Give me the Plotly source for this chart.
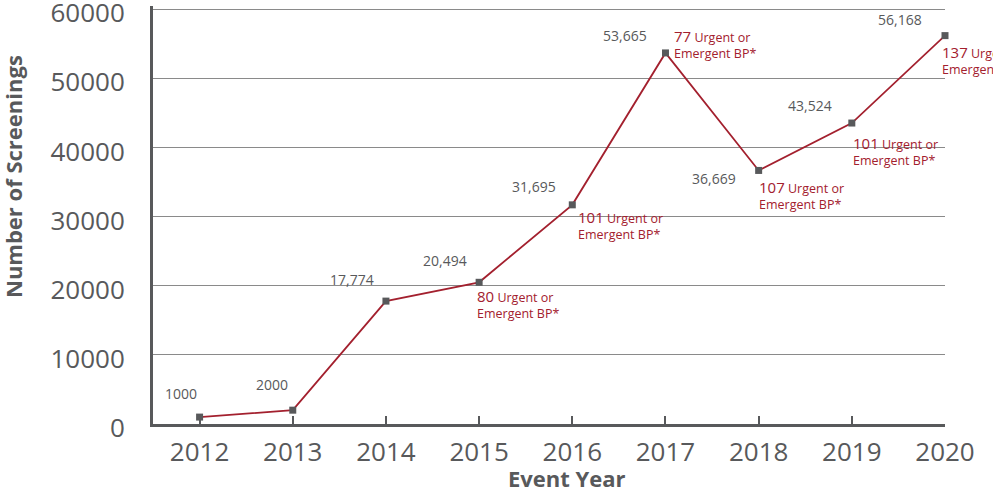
import plotly.graph_objects as go

years = [2012, 2013, 2014, 2015, 2016, 2017, 2018, 2019, 2020]
screenings = [1000, 2000, 17774, 20494, 31695, 53665, 36669, 43524, 56168]
count_labels = ["1000", "2000", "17,774", "20,494", "31,695", "53,665", "36,669", "43,524", "56,168"]
urgent_counts = [None, None, None, 80, 101, 77, 107, 101, 137]
y_ticks = [0, 10000, 20000, 30000, 40000, 50000, 60000]
y_tick_labels = ["0", "10000", "20000", "30000", "40000", "50000", "60000"]

RED = "#a3202e"
GRAY = "#58595b"
FONT = "Open Sans"

# pixel offsets of labels relative to their points (styling only)
gray_off = [(-18.5, 24), (-21, 26), (-34, 22), (-34, 22), (-38, 18), (-40, 17), (-45, -8), (-42, 18), (-45, 16)]
red_off = [None, None, None, (-4, -21.5), (4, -20.5), (7, 8.5), (-2, -25), (-1, -28), (-5, -24)]

fig = go.Figure()
fig.add_trace(go.Scatter(
    x=years, y=screenings, mode="lines+markers",
    line=dict(color=RED, width=1.8),
    marker=dict(symbol="square", size=7, color=GRAY),
    cliponaxis=False, hoverinfo="skip", showlegend=False,
))

for yr, val, txt, (dx, dy) in zip(years, screenings, count_labels, gray_off):
    fig.add_annotation(
        x=yr, y=val, xref="x", yref="y", text=txt, showarrow=False,
        xanchor="center", yanchor="middle", xshift=dx, yshift=dy,
        font=dict(family=FONT, size=14, color=GRAY),
    )
for yr, val, u, off in zip(years, screenings, urgent_counts, red_off):
    if u is None:
        continue
    dx, dy = off
    fig.add_annotation(
        x=yr, y=val, xref="x", yref="y",
        text=f"<span style='font-size:15px'>{u}</span> Urgent or<br>Emergent BP*",
        showarrow=False, align="left",
        xanchor="left", yanchor="middle", xshift=dx, yshift=dy,
        font=dict(family=FONT, size=12.5, color=RED),
    )
fig.add_annotation(
    x=0.5, y=0, xref="paper", yref="paper", xanchor="center", yanchor="middle",
    yshift=-54, xshift=18,
    text="<b>Event Year</b>", showarrow=False,
    font=dict(family=FONT, size=22, color=GRAY),
)
fig.add_annotation(
    x=0, y=0.5, xref="paper", yref="paper", xanchor="center", yanchor="middle",
    xshift=-140, yshift=38, textangle=-90,
    text="<b>Number of Screenings</b>", showarrow=False,
    font=dict(family=FONT, size=22, color=GRAY),
)

fig.update_layout(
    width=993, height=491,
    margin=dict(l=153, r=48, t=6, b=67, autoexpand=False),
    paper_bgcolor="white", plot_bgcolor="white",
    font=dict(family=FONT, color=GRAY),
)

fig.update_xaxes(
    range=[2011.5, 2020], tickvals=years, ticktext=[str(y) for y in years],
    ticks="inside", ticklen=8, tickwidth=2, tickcolor=GRAY,
    showline=True, linecolor=GRAY, linewidth=3,
    showgrid=False, zeroline=False, automargin=False,
    tickfont=dict(family=FONT, size=26, color=GRAY),
    ticklabelstandoff=3,
)
fig.update_yaxes(
    range=[0, 60450], tickvals=y_ticks, ticktext=y_tick_labels,
    showline=True, linecolor=GRAY, linewidth=3,
    showgrid=True, gridcolor="#8a8a8a", gridwidth=1,
    zeroline=False, ticks="", automargin=False,
    tickfont=dict(family=FONT, size=26, color=GRAY),
    ticklabelstandoff=20, ticklabeloverflow="allow", ticklabelshift=4,
)

fig.write_html(
    "out.html",
    config={"displayModeBar": False},
    post_script="document.body.style.margin='0px';",
)
